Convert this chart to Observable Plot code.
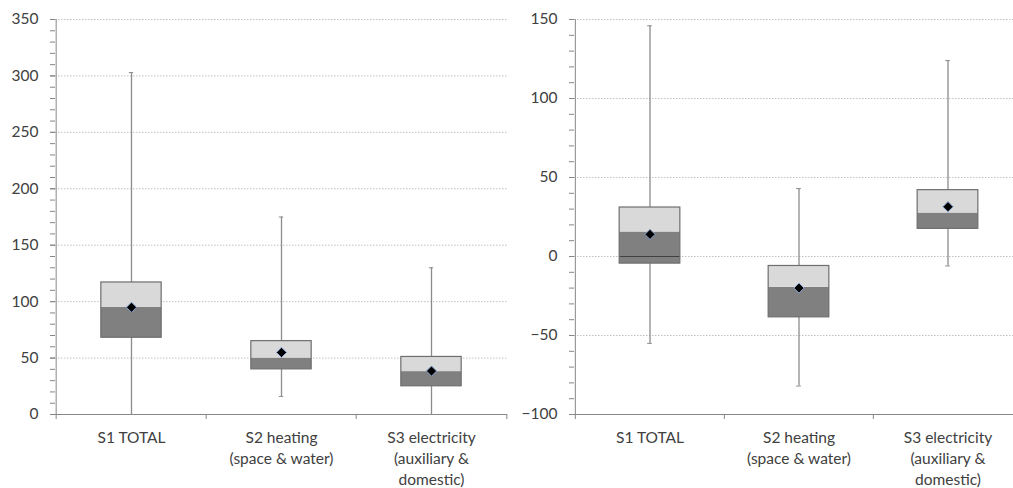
<!DOCTYPE html>
<html>
<head>
<meta charset="utf-8">
<script src="https://cdn.jsdelivr.net/npm/d3@7"></script>
<script src="https://cdn.jsdelivr.net/npm/@observablehq/plot@0.6"></script>
<style>
  html, body { margin: 0; padding: 0; background: #fff; overflow: hidden; }
  #wrap { display: flex; width: 1013px; height: 488px; overflow: hidden; }
  #wrap svg { flex: none; }
</style>
</head>
<body>
<div id="wrap"></div>
<script>
// Categories (x tick labels)
const categories = ["S1 TOTAL", "S2 heating\n(space & water)", "S3 electricity\n(auxiliary &\ndomestic)"];

// Left panel statistics
const leftMin    = [0, 16, 0];
const leftQ1     = [68, 40, 25];
const leftMedian = [95, 50, 38];
const leftQ3     = [117, 65, 51];
const leftMax    = [303, 175, 130];
const leftMean   = [95, 55, 38.5];
const leftTicks  = [0, 50, 100, 150, 200, 250, 300, 350];

// Right panel statistics
const rightMin    = [-55, -82, -6];
const rightQ1     = [-4.5, -38.5, 17.5];
const rightMedian = [15.5, -19.5, 27.5];
const rightQ3     = [31, -6, 42];
const rightMax    = [146, 43, 124];
const rightMean   = [14, -20, 31.5];
const rightTicks  = [-100, -50, 0, 50, 100, 150];

function table(mn, q1, md, q3, mx, mean) {
  return categories.map((c, i) => ({cat: c, min: mn[i], q1: q1[i], median: md[i], q3: q3[i], max: mx[i], mean: mean[i]}));
}

function panel(data, ticks, width, marginLeft, marginRight) {
  const ymin = ticks[0], ymax = ticks[ticks.length - 1];
  const marginTop = 19, marginBottom = 74, height = 488;
  const bw = (width - marginLeft - marginRight) / categories.length;
  const boxInset = (bw - 61) / 2;
  const capInset = (bw - 5) / 2;
  const minor = d3.range(ymin, ymax + 1, 10);
  const zeroCross = data.filter(d => d.q1 < 0 && d.q3 > 0);
  return Plot.plot({
    width, height, marginTop, marginBottom, marginLeft, marginRight,
    style: {fontFamily: "Lato, 'Open Sans', sans-serif", fontSize: "15px", color: "#404040", background: "#fff"},
    x: {type: "band", domain: categories, padding: 0, label: null},
    y: {domain: [ymin, ymax], label: null},
    marks: [
      Plot.gridY(ticks, {stroke: "#c0c0c0", strokeOpacity: 1, strokeDasharray: "1.5,1.5"}),
      Plot.axisY(minor, {tickSize: 5, tickFormat: () => "", stroke: "#868686"}),
      Plot.axisY(ticks, {tickSize: 5, tickPadding: 12, stroke: "#868686", fill: "#404040", fontSize: 15.5, label: null}),
      Plot.axisX({tickSize: 0, tickPadding: 13, lineHeight: 1.38, fill: "#404040", fontSize: 15.5, label: null}),
      Plot.ruleX(categories, {x: d => d, y1: ymin, y2: ymin, insetBottom: -5, dx: -bw / 2, stroke: "#868686"}),
      Plot.ruleX(categories.slice(-1), {x: d => d, y1: ymin, y2: ymin, insetBottom: -5, dx: bw / 2, stroke: "#868686"}),
      Plot.ruleX([0], {x: () => categories[0], y1: ymin, y2: ymax, dx: -bw / 2, stroke: "#868686"}),
      Plot.ruleY([ymin], {stroke: "#868686"}),
      Plot.ruleX(data, {x: "cat", y1: "min", y2: "max", stroke: "#8c8c8c", strokeWidth: 1.3}),
      Plot.tickY(data, {x: "cat", y: "max", insetLeft: capInset, insetRight: capInset, stroke: "#8c8c8c"}),
      Plot.tickY(data, {x: "cat", y: "min", insetLeft: capInset, insetRight: capInset, stroke: "#8c8c8c"}),
      Plot.barY(data, {x: "cat", y1: "q1", y2: "median", fill: "#808080", insetLeft: boxInset, insetRight: boxInset}),
      Plot.barY(data, {x: "cat", y1: "median", y2: "q3", fill: "#d9d9d9", insetLeft: boxInset, insetRight: boxInset}),
      Plot.tickY(zeroCross, {x: "cat", y: 0, insetLeft: boxInset, insetRight: boxInset, stroke: "#404040", strokeWidth: 1.2}),
      Plot.barY(data, {x: "cat", y1: "q1", y2: "q3", fill: "none", stroke: "#6e6e6e", strokeWidth: 1.2, insetLeft: boxInset, insetRight: boxInset}),
      Plot.dot(data, {x: "cat", y: "mean", symbol: "diamond2", r: 4.6, fill: "#000", stroke: "#8eaadb", strokeWidth: 1})
    ]
  });
}

const wrap = document.getElementById("wrap");
wrap.appendChild(panel(table(leftMin, leftQ1, leftMedian, leftQ3, leftMax, leftMean), leftTicks, 510, 55, 3));
wrap.appendChild(panel(table(rightMin, rightQ1, rightMedian, rightQ3, rightMax, rightMean), rightTicks, 512, 64, 0));
</script>
</body>
</html>
